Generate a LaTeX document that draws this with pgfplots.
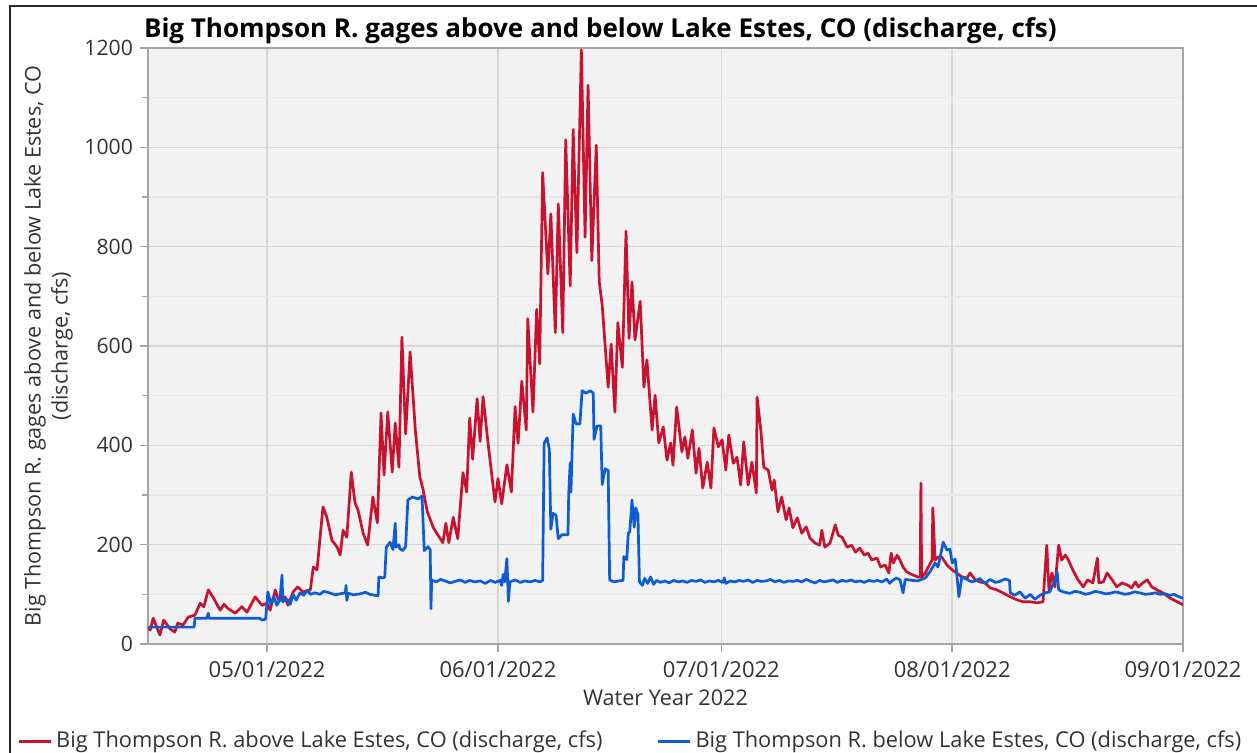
\documentclass[border=0pt]{standalone}
\usepackage{pgfplots}
\pgfplotsset{compat=1.18}
\usepackage{fontspec}
\setmainfont{Open Sans}
\definecolor{redline}{RGB}{200,18,48}
\definecolor{blueline}{RGB}{12,92,212}
\definecolor{plotbg}{RGB}{242,242,242}
\definecolor{gridc}{RGB}{215,215,215}
\definecolor{minorgridc}{RGB}{232,232,232}
\definecolor{axisc}{RGB}{165,165,165}
\definecolor{txt}{RGB}{50,50,50}

\pgfplotstableread{
d v
0.0 35
0.3 28
0.7 52
1.6 18
2.1 48
3.0 30
3.6 24
4.0 42
4.7 38
5.4 54
6.3 58
7.0 82
7.5 75
8.1 109
8.7 95
9.7 68
10.2 80
10.7 72
11.7 62
12.6 75
13.3 64
14.4 95
15.3 78
16.0 82
16.4 68
17.1 109
17.5 89
18.4 95
18.8 78
19.5 105
20.1 115
20.8 105
21.8 109
22.2 155
22.7 149
23.5 276
24.0 256
24.7 209
25.4 195
25.8 179
26.2 229
26.7 215
27.3 346
27.8 284
28.2 270
28.9 223
29.5 199
30.2 296
30.8 244
31.3 465
31.7 340
32.2 467
32.8 346
33.2 445
33.7 356
34.1 618
34.6 423
35.2 588
35.9 431
36.5 337
36.9 314
37.5 267
38.3 235
38.9 220
39.6 204
40.0 243
40.4 204
41.0 255
41.6 212
42.3 345
42.8 306
43.2 455
43.6 372
44.2 494
44.6 408
45.0 498
45.7 400
46.6 286
47.0 333
47.5 282
48.2 361
48.8 306
49.3 478
49.7 404
50.2 529
50.8 431
51.0 655
51.7 467
52.2 674
52.6 564
53.0 949
53.7 745
54.1 866
54.7 627
55.1 886
55.7 627
56.1 1015
56.7 721
57.1 1036
57.6 788
58.2 1196
58.7 819
59.1 1125
59.6 772
60.2 1004
60.6 729
61.0 682
61.8 517
62.2 604
62.7 467
63.1 647
63.7 557
64.2 831
64.6 615
65.0 729
65.4 612
66.1 690
66.6 517
67.0 572
67.7 431
68.1 501
68.6 405
69.2 437
69.7 370
70.2 405
70.5 360
71.0 477
71.7 387
72.1 417
72.5 374
73.1 431
73.6 344
74.0 394
74.5 314
75.1 366
75.6 314
76.0 435
76.6 397
77.1 411
77.6 350
78.0 421
78.6 364
79.1 376
79.6 320
80.0 407
80.6 320
81.1 366
81.7 304
81.8 497
82.3 431
82.7 356
83.3 350
83.8 310
84.1 330
84.6 266
85.1 296
85.7 250
86.1 274
86.6 234
87.2 254
87.8 223
88.4 236
88.9 213
89.6 203
90.2 199
90.5 229
90.9 195
91.6 203
92.3 240
92.7 219
93.2 215
93.9 195
94.5 199
95.0 185
95.6 193
96.2 179
96.7 183
97.2 169
97.9 173
98.4 155
99.0 159
99.5 143
99.8 183
100.1 163
100.6 179
101.0 169
101.4 155
101.9 145
102.7 139
103.4 135
103.7 135
103.8 324
103.9 135
104.4 143
104.8 155
105.3 169
105.4 274
105.7 169
106.1 175
106.6 175
107.3 159
108.0 149
108.6 143
109.3 135
110.0 133
110.4 143
111.1 129
111.7 125
112.4 123
113.1 113
114.0 109
114.8 103
115.8 95
116.7 89
117.5 85
118.5 85
119.4 83
120.2 85
120.7 199
121.0 109
121.4 143
121.8 115
122.3 199
122.7 169
123.2 179
123.6 169
124.2 149
124.9 129
125.6 115
126.2 129
126.9 123
127.5 173
127.7 123
128.3 125
128.8 143
129.5 129
130.1 115
130.8 123
131.5 119
132.1 113
132.6 125
133.0 115
133.6 123
134.2 129
134.8 115
135.5 109
136.3 103
137.2 93
138.2 85
139.0 79
}\abovetable

\pgfplotstableread{
d v
0.0 34
6.2 34
6.3 52
7.9 52
8.1 62
8.2 52
15.0 52
15.3 48
15.8 50
16.1 105
16.5 80
16.9 95
17.3 78
17.7 88
18.0 139
18.1 85
18.7 90
19.1 80
19.5 100
19.9 88
20.4 103
20.9 98
21.4 108
21.8 100
22.4 103
23.1 100
23.6 106
24.4 103
25.1 99
25.8 101
26.5 103
26.6 118
26.7 88
26.9 102
27.6 99
28.5 101
29.2 104
29.8 100
30.9 97
31.0 135
31.6 133
31.8 135
32.0 195
32.5 205
32.9 190
33.2 243
33.3 195
33.7 200
33.8 192
34.2 188
34.6 196
34.9 290
35.5 296
36.3 292
36.8 298
37.1 188
37.6 196
37.9 190
38.0 71
38.1 129
38.7 125
39.3 130
39.9 127
40.6 123
41.2 126
41.9 129
42.6 124
43.2 128
43.9 125
44.6 127
45.3 122
46.0 128
46.6 124
47.3 128
47.5 118
47.7 140
47.9 125
48.2 172
48.4 86
48.6 125
49.3 129
50.0 124
50.6 127
51.3 125
52.0 128
52.6 125
53.0 128
53.2 404
53.6 415
53.9 392
54.1 231
54.4 263
54.8 259
55.1 212
55.6 220
56.4 220
56.5 302
56.7 365
56.8 306
57.1 463
57.5 443
58.0 443
58.3 510
58.8 505
59.4 510
59.8 505
59.9 412
60.3 439
60.8 439
61.0 321
61.4 353
61.8 349
62.0 129
62.6 125
63.2 127
63.8 128
63.9 176
64.3 170
64.5 223
64.7 226
65.0 290
65.3 235
65.5 274
65.8 260
66.0 125
66.4 118
66.7 132
67.1 122
67.5 135
67.9 120
68.3 128
68.8 124
69.4 127
70.0 123
70.6 128
71.2 125
71.8 127
72.4 124
73.0 128
73.6 126
74.2 129
74.8 124
75.4 127
76.0 125
76.6 128
77.2 124
77.4 133
77.6 122
78.2 127
78.8 125
79.4 128
80.0 126
80.6 129
81.2 124
81.8 128
82.4 126
83.0 127
83.6 130
84.2 125
84.8 128
85.4 124
86.0 127
86.6 126
87.2 128
87.8 125
88.4 130
89.0 126
89.6 123
90.2 128
90.8 125
91.4 127
92.0 129
92.6 124
93.2 128
93.8 126
94.4 129
95.0 125
95.6 127
96.2 124
96.8 128
97.4 126
98.0 128
98.6 125
99.2 131
99.6 122
100.0 128
100.5 133
101.0 129
101.4 103
101.7 130
102.7 128
103.4 127
104.4 133
105.0 145
105.7 163
106.1 155
106.8 205
107.3 189
107.7 191
108.0 163
108.4 171
108.6 143
108.9 95
109.3 135
110.0 130
110.6 125
111.1 127
111.7 132
112.4 122
113.1 130
113.8 124
114.4 126
115.1 131
115.7 128
115.8 103
116.4 98
117.1 105
117.8 92
118.5 100
119.1 90
119.8 98
120.5 103
121.1 105
121.8 129
122.1 145
122.3 109
122.9 105
123.8 102
124.5 106
125.2 104
125.9 100
126.5 102
127.2 106
127.9 104
128.6 101
129.2 102
129.9 105
130.5 103
131.2 100
131.9 102
132.5 105
133.2 103
133.9 100
134.6 101
135.3 103
135.9 100
136.6 101
137.2 98
137.8 100
138.3 96
139.0 92
}\belowtable

\begin{document}
\begin{tikzpicture}
\useasboundingbox (-74pt,-54.5pt) rectangle (554.5pt,322pt);
\draw[line width=1pt, black!85] (-69pt,-54.5pt) -- (-69pt,319pt) -- (554.5pt,319pt);
\begin{axis}[
  at={(0pt,0pt)}, anchor=south west,
  scale only axis, width=517.5pt, height=298pt,
  xmin=0, xmax=139, ymin=0, ymax=1200,
  axis background/.style={fill=plotbg},
  axis line style={axisc, line width=0.8pt},
  xtick={16,47,77,108,139},
  xticklabels={05/01/2022,06/01/2022,07/01/2022,08/01/2022,09/01/2022},
  ytick={0,200,...,1200},
  minor ytick={100,300,...,1100},
  xmajorgrids, ymajorgrids, yminorgrids,
  major grid style={gridc, line width=0.8pt},
  minor grid style={minorgridc, line width=0.6pt},
  tick align=outside, tick pos=left,
  major tick length=4pt, minor tick length=3pt,
  tick style={axisc, line width=0.7pt},
  /pgf/number format/assume math mode=true,
  /pgf/number format/1000 sep={},
  ticklabel style={font=\fontsize{10.6}{12}\selectfont, text=txt},
  xticklabel style={yshift=-1pt, font=\fontsize{11}{12}\selectfont},
  title={Big Thompson R. gages above and below Lake Estes, CO (discharge, cfs)},
  title style={at={(axis description cs:0,1)}, anchor=base west, yshift=-1pt, xshift=-5.5pt, font=\bfseries\fontsize{13}{15}\selectfont, text=black},
  ylabel={Big Thompson R. gages above and below Lake Estes, CO\\(discharge, cfs)},
  ylabel style={at={(axis description cs:-0.0961,0.5)}, anchor=center, align=center, font=\fontsize{10.8}{13.5}\selectfont, text=txt},
  xlabel={Water Year 2022},
  xlabel style={at={(axis description cs:0.5,-0.091)}, anchor=center, font=\fontsize{10.8}{12}\selectfont, text=txt},
  legend columns=2,
  legend style={draw=none, fill=none, at={(axis description cs:-0.1325,-0.163)}, anchor=west, font=\fontsize{10.9}{12}\selectfont, text=txt, /tikz/every even column/.append style={column sep=25pt}},
  legend image code/.code={\draw[line width=1.5pt] (0pt,0pt) -- (16pt,0pt);},
]
\addplot[redline, line width=1.35pt, line join=round] table[x=d, y=v] {\abovetable};
\addlegendentry{Big Thompson R. above Lake Estes, CO (discharge, cfs)}
\addplot[blueline, line width=1.35pt, line join=round] table[x=d, y=v] {\belowtable};
\addlegendentry{Big Thompson R. below Lake Estes, CO (discharge, cfs)}
\end{axis}
\end{tikzpicture}
\end{document}
